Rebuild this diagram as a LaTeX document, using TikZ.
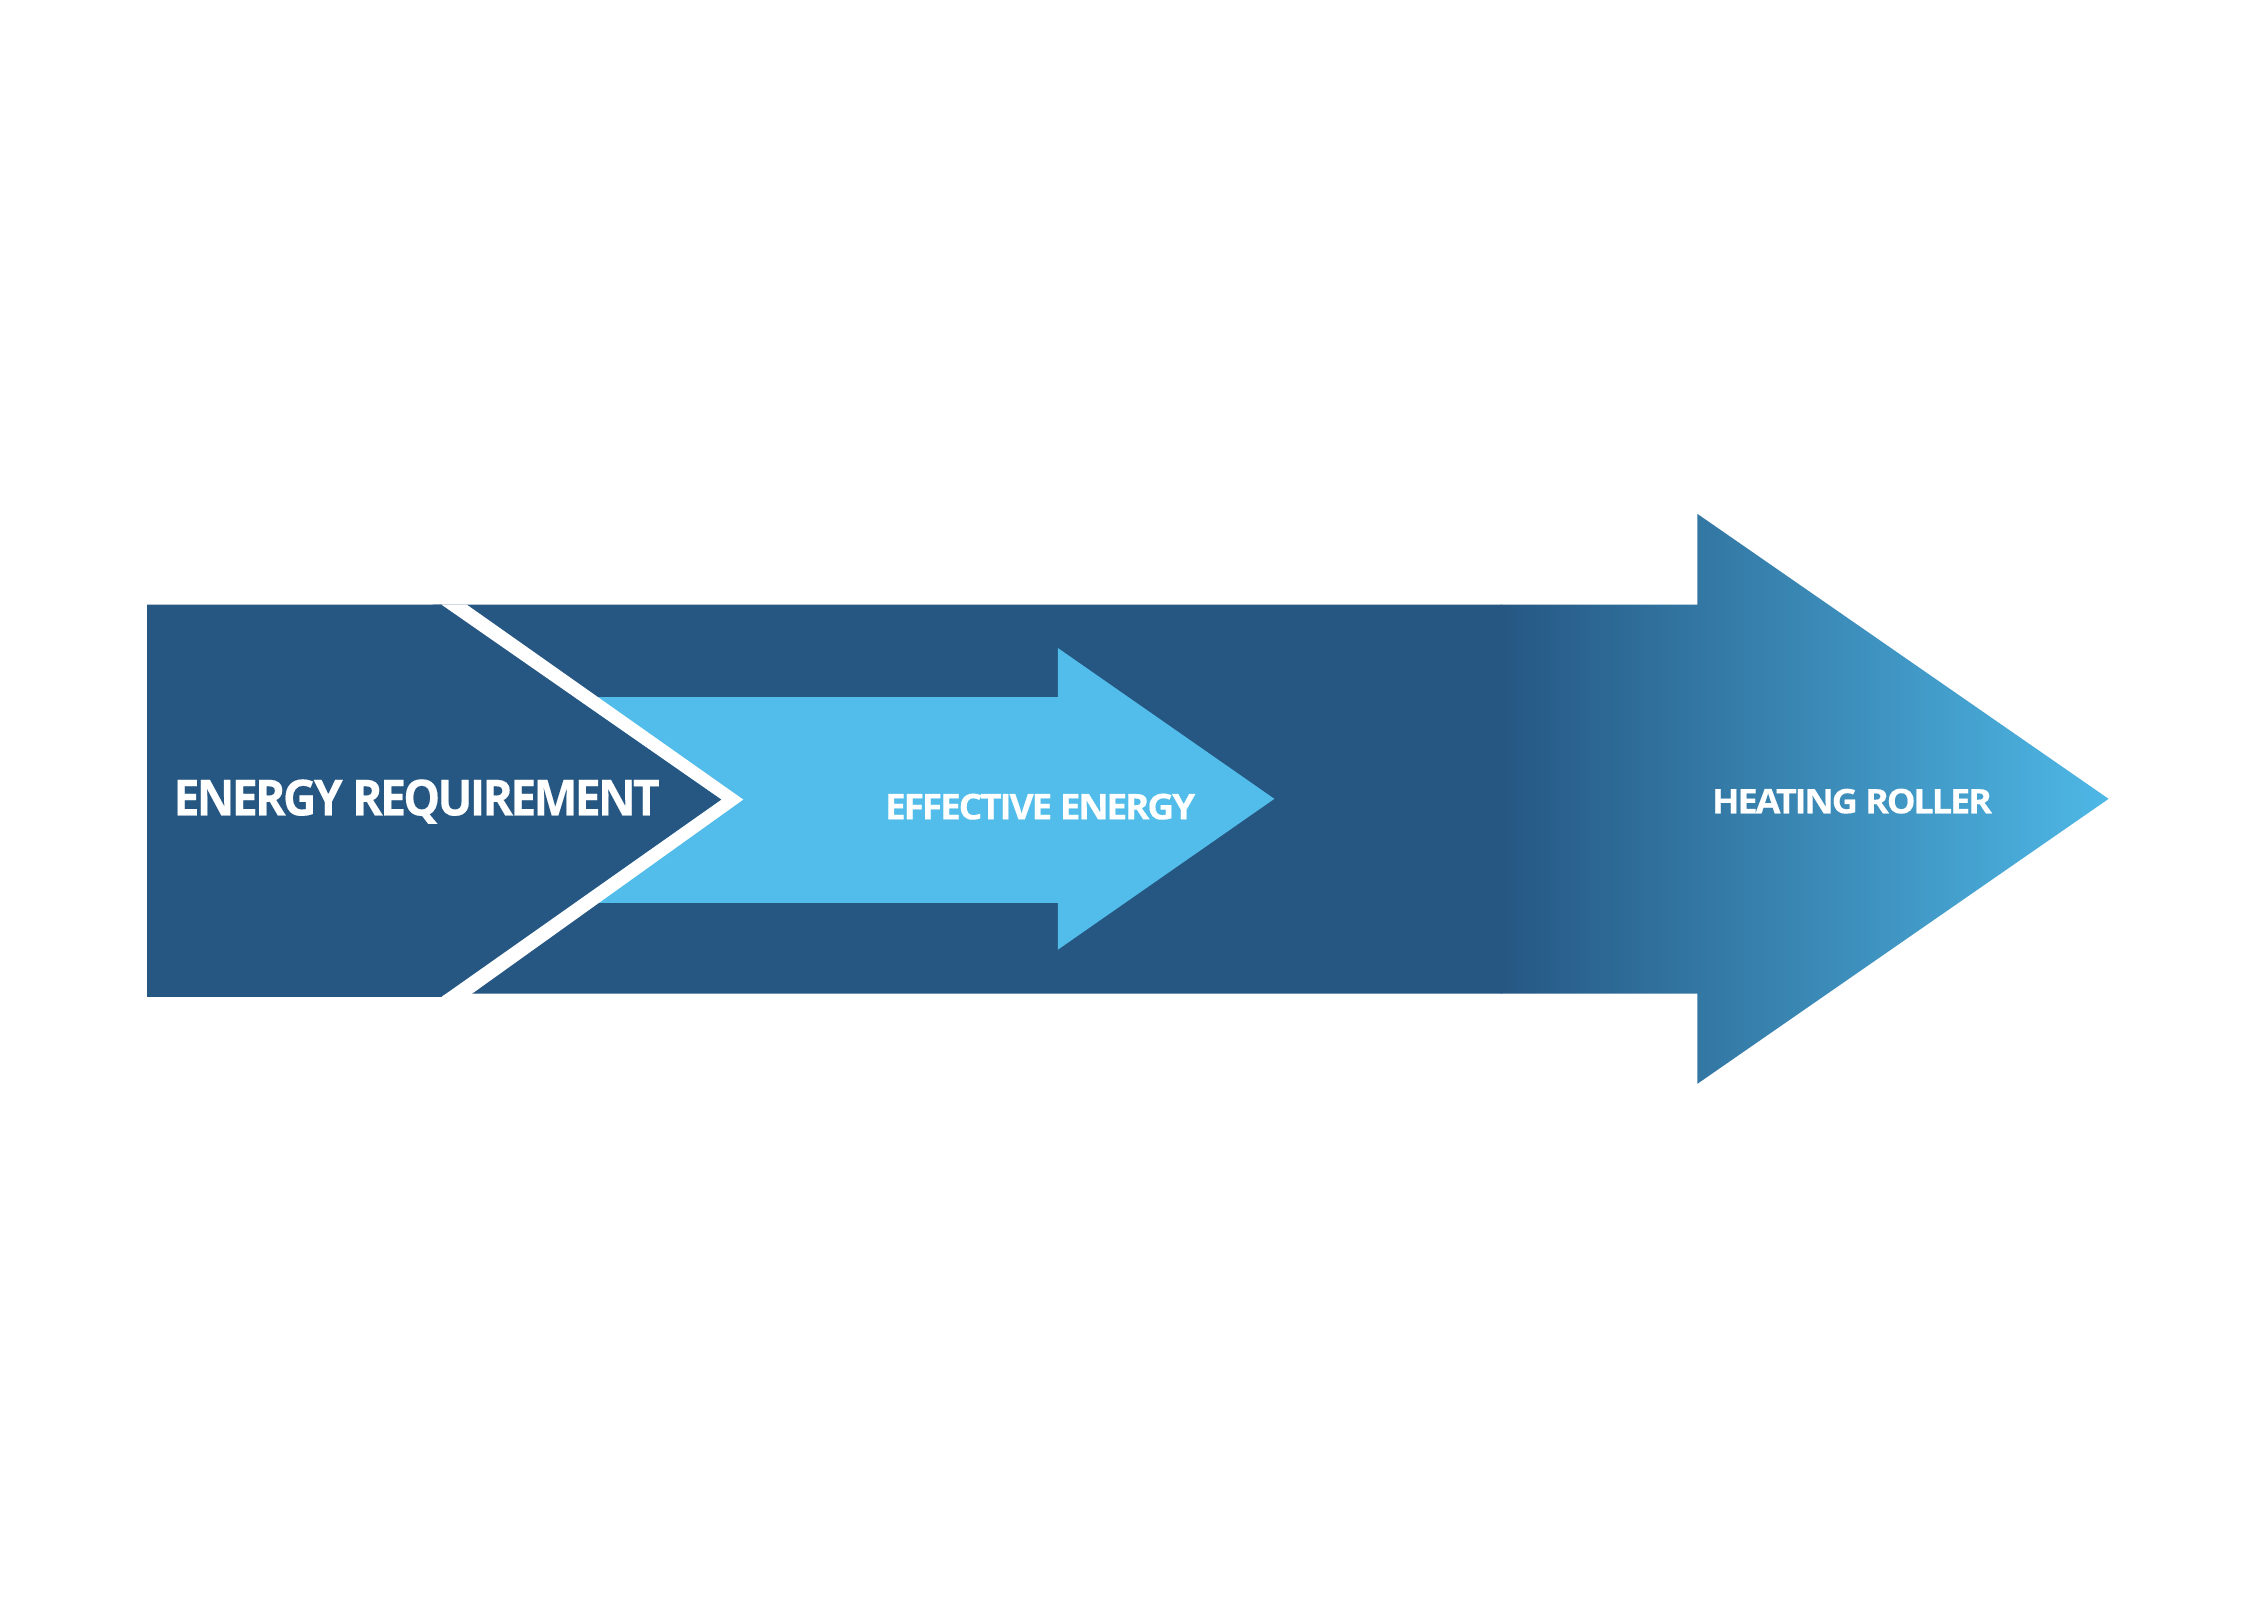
\documentclass[tikz,border=0pt]{standalone}
\usepackage{fontspec}
\setmainfont{Open Sans}
\newfontfamily\lblfont{Open Sans}[LetterSpace=-6.0, FakeBold=0.3]
\definecolor{darkblue}{RGB}{38,87,131}
\definecolor{lightblue}{RGB}{82,189,234}
\definecolor{tipblue}{RGB}{78,184,230}
\begin{document}
\begin{tikzpicture}[x=1pt,y=-1pt,
  lbl/.style={text=white,inner sep=0pt,anchor=base west,font=\lblfont\bfseries}]
\useasboundingbox[fill=white] (0,0) rectangle (1568,1108.6);
% big arrow (heating roller)
\begin{scope}
\clip (300,419) -- (1176,419) -- (1176,356) -- (1461,553.5) -- (1176,751) -- (1176,688.5) -- (300,688.5) -- cycle;
\fill[darkblue] (290,340) rectangle (1041,760);
\shade[left color=darkblue,right color=tipblue] (1040,340) rectangle (1462,760);
\end{scope}
% light arrow (effective energy)
\fill[lightblue] (380,483) -- (733,483) -- (733,449) -- (883,553.5) -- (733,658) -- (733,625.5) -- (380,625.5) -- cycle;
% left chevron piece (energy requirement)
\fill[darkblue] (102,419) -- (306,419) -- (500,554) -- (306,690.7) -- (102,690.7) -- cycle;
% white separating band
\fill[white] (306,419) -- (323.5,419) -- (515,554) -- (324,690.7) -- (306,690.7) -- (500,554) -- cycle;
% labels
\node[lbl] (req) at (120,565) {\resizebox{337pt}{25pt}{ENERGY REQUIREMENT}};
\node[lbl] (eff) at (613,567.7) {\resizebox{215pt}{17.8pt}{EFFECTIVE ENERGY}};
\node[lbl] (heat) at (1186,563.5) {\resizebox{194pt}{17pt}{HEATING ROLLER}};
\end{tikzpicture}
\end{document}
